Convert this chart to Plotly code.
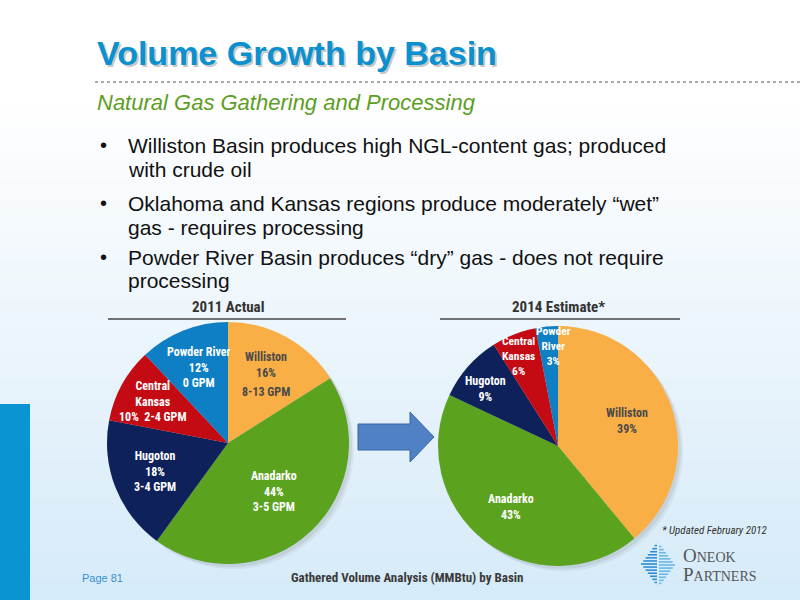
import math
import plotly.graph_objects as go

# ---- data ----
basins = ["Williston", "Anadarko", "Hugoton", "Central Kansas", "Powder River"]
share_2011 = [16, 44, 18, 10, 12]
share_2014 = [39, 43, 9, 6, 3]
gpm_2011 = ["8-13 GPM", "3-5 GPM", "3-4 GPM", "2-4 GPM", "0 GPM"]
names_2011 = ["Williston", "Anadarko", "Hugoton", "Central<br>Kansas", "Powder River"]
names_2014 = ["Williston", "Anadarko", "Hugoton", "Central<br>Kansas", "Powder<br>River"]

bullets = [
    ["Williston Basin produces high NGL-content gas; produced", "with crude oil"],
    ["Oklahoma and Kansas regions produce moderately \u201cwet\u201d", "gas - requires processing"],
    ["Powder River Basin produces \u201cdry\u201d gas - does not require", "processing"],
]

colors = ["#F9AF45", "#5BA31E", "#0E215B", "#C40A12", "#0E7FC4"]
label_colors = ["#4A4A4A", "white", "white", "white", "white"]

W, H = 800, 600
NARROW = "Liberation Sans Narrow, Arial Narrow, Roboto Condensed, sans-serif"
SANS = "Liberation Sans, Arial, sans-serif"


def px(x):
    return x / W


def py(y):
    return 1 - y / H


fig = go.Figure()
shapes = []
ann = []

# background gradient (white -> pale blue)
top, bottom = 100, 600
steps = 50
c0 = (255, 255, 255)
c1 = (214, 235, 249)
for i in range(steps):
    t = i / (steps - 1)
    col = tuple(int(c0[k] + (c1[k] - c0[k]) * t) for k in range(3))
    y0 = top + (bottom - top) * i / steps
    y1 = top + (bottom - top) * (i + 1) / steps + 1
    shapes.append(dict(type="rect", xref="paper", yref="paper", layer="below",
                       x0=0, x1=1, y0=py(y1), y1=py(y0), line_width=0,
                       fillcolor="rgb(%d,%d,%d)" % col))

# left blue bar
shapes.append(dict(type="rect", xref="paper", yref="paper", layer="below",
                   x0=0, x1=px(30), y0=0, y1=py(404), line_width=0, fillcolor="#0A95D2"))

# dotted rule under title
shapes.append(dict(type="line", xref="paper", yref="paper", x0=px(95), x1=1,
                   y0=py(82), y1=py(82), line=dict(color="#8C8C8C", width=1.5, dash="dot")))

# title with shadow
ann.append(dict(x=px(97), y=py(55), xanchor="left", yanchor="middle", showarrow=False,
                text="<b>Volume Growth by Basin</b>",
                font=dict(family=SANS, size=34, color="rgba(60,60,60,0.3)")))
ann.append(dict(x=px(95), y=py(53), xanchor="left", yanchor="middle", showarrow=False,
                text="<b>Volume Growth by Basin</b>",
                font=dict(family=SANS, size=34, color="#0B90D0")))
ann.append(dict(x=px(95), y=py(103), xanchor="left", yanchor="middle", showarrow=False,
                text="<i>Natural Gas Gathering and Processing</i>",
                font=dict(family=SANS, size=22, color="#5C9E1F")))

# bullets
line_y = [[145, 169], [203, 227], [257, 281]]
for b, ys in zip(bullets, line_y):
    ann.append(dict(x=px(98), y=py(ys[0]), xanchor="left", yanchor="middle", showarrow=False,
                    text="\u2022", font=dict(family=SANS, size=20, color="#111111")))
    for txt, yy in zip(b, ys):
        ann.append(dict(x=px(126), y=py(yy), xanchor="left", yanchor="middle", showarrow=False,
                        text=txt, font=dict(family=SANS, size=21, color="#111111")))

# pies
pies = [
    dict(vals=share_2011, names=names_2011, cx=228, cy=443, r=121, title="2011 Actual",
         frac=[0.65, 0.55, 0.65, 0.71, 0.67], nudge=[0, 0, 0, 0, 0], line=(108, 346)),
    dict(vals=share_2014, names=names_2014, cx=558, cy=446, r=120, title="2014 Estimate*",
         frac=[0.61, 0.64, 0.77, 0.82, 0.83], nudge=[0, 0, -3, -2, 3], line=(440, 680)),
]

for k, p in enumerate(pies):
    cx, cy, r = p["cx"], p["cy"], p["r"]
    # soft shadow
    for s, a in [(5, 0.06), (3, 0.08)]:
        shapes.append(dict(type="circle", xref="paper", yref="paper", layer="below",
                           x0=px(cx - r + s), x1=px(cx + r + s), y0=py(cy + r + s), y1=py(cy - r + s),
                           line_width=0, fillcolor="rgba(40,40,40,%s)" % a))
    fig.add_trace(go.Pie(
        values=p["vals"], labels=basins, sort=False, direction="clockwise", rotation=0,
        marker=dict(colors=colors, line=dict(width=0)), textinfo="none",
        domain=dict(x=[px(cx - r), px(cx + r)], y=[py(cy + r), py(cy - r)]),
        showlegend=False, hoverinfo="label+percent",
    ))
    ann.append(dict(x=px(cx), y=py(307), xanchor="center", yanchor="middle", showarrow=False,
                    text="<b>%s</b>" % p["title"], font=dict(family=NARROW, size=15, color="#333333")))
    shapes.append(dict(type="line", xref="paper", yref="paper", x0=px(p["line"][0]), x1=px(p["line"][1]),
                       y0=py(319), y1=py(319), line=dict(color="#444444", width=1.5)))

    total = sum(p["vals"])
    cum = 0
    for i, v in enumerate(p["vals"]):
        th = 2 * math.pi * (cum + v / 2) / total + math.radians(p["nudge"][i])
        cum += v
        f = p["frac"][i]
        lx = cx + f * r * math.sin(th)
        ly = cy - f * r * math.cos(th)
        pct = "%d%%" % v
        fnt = dict(family=NARROW, size=12, color=label_colors[i])
        if k == 0:
            if i == 0:
                ann.append(dict(x=px(lx), y=py(ly - 9), xanchor="center", yanchor="middle",
                                showarrow=False, text="<b>%s<br>%s</b>" % (p["names"][i], pct), font=fnt))
                ann.append(dict(x=px(lx), y=py(ly + 18), xanchor="center", yanchor="middle",
                                showarrow=False, text="<b>%s</b>" % gpm_2011[i], font=fnt))
                continue
            if i == 3:
                txt = "<b>%s<br>%s&nbsp;&nbsp;%s</b>" % (p["names"][i], pct, gpm_2011[i])
            else:
                txt = "<b>%s<br>%s<br>%s</b>" % (p["names"][i], pct, gpm_2011[i])
        else:
            txt = "<b>%s<br>%s</b>" % (p["names"][i], pct)
            if i >= 3:
                fnt["size"] = 11.5
        ann.append(dict(x=px(lx), y=py(ly), xanchor="center", yanchor="middle",
                        showarrow=False, text=txt, font=fnt))

# arrow between pies
pts = [(358, 424), (410, 424), (410, 412), (434, 437), (410, 462), (410, 450), (358, 450)]
path = "M " + " L ".join("%f,%f" % (px(x), py(y)) for x, y in pts) + " Z"
shapes.append(dict(type="path", xref="paper", yref="paper", path=path,
                   fillcolor="#4F81C4", line=dict(color="#3A65A3", width=1)))

# footer
ann.append(dict(x=px(80), y=py(578), xanchor="left", yanchor="middle", showarrow=False,
                text="Page 81", font=dict(family=SANS, size=11, color="#3A8FD0")))
ann.append(dict(x=px(407), y=py(577), xanchor="center", yanchor="middle", showarrow=False,
                text="<b>Gathered Volume Analysis (MMBtu) by Basin</b>",
                font=dict(family=NARROW, size=13, color="#3A3A3A")))
ann.append(dict(x=px(770), y=py(530), xanchor="right", yanchor="middle", showarrow=False,
                text="<i>* Updated February 2012</i>", font=dict(family=NARROW, size=11, color="#333333")))

# logo
ann.append(dict(x=px(681), y=py(555), xanchor="left", yanchor="middle", showarrow=False,
                text="O<span style='font-size:14px'>NEOK</span>",
                font=dict(family="Liberation Serif, serif", size=19, color="#555555")))
ann.append(dict(x=px(681), y=py(574), xanchor="left", yanchor="middle", showarrow=False,
                text="P<span style='font-size:14px'>ARTNERS</span>",
                font=dict(family="Liberation Serif, serif", size=19, color="#555555")))
lcx, lcy, hw, hh = 658, 564, 17, 23
n = 15
for j in range(n):
    yy = lcy - hh + (2 * hh) * (j + 0.5) / n
    half = hw * (1 - abs(yy - lcy) / hh)
    shapes.append(dict(type="line", xref="paper", yref="paper", x0=px(lcx - half), x1=px(lcx - 1),
                       y0=py(yy), y1=py(yy), line=dict(color="#2E8FD3", width=1.6)))
    shapes.append(dict(type="line", xref="paper", yref="paper", x0=px(lcx + 1), x1=px(lcx + half),
                       y0=py(yy + 1), y1=py(yy + 1), line=dict(color="#6BB8E8", width=1.6)))

fig.update_layout(
    width=W, height=H, margin=dict(l=0, r=0, t=0, b=0),
    paper_bgcolor="white", plot_bgcolor="white",
    shapes=shapes, annotations=ann,
)

fig.write_html("out.html", config={"displayModeBar": False},
               post_script="document.body.style.margin='0';")
